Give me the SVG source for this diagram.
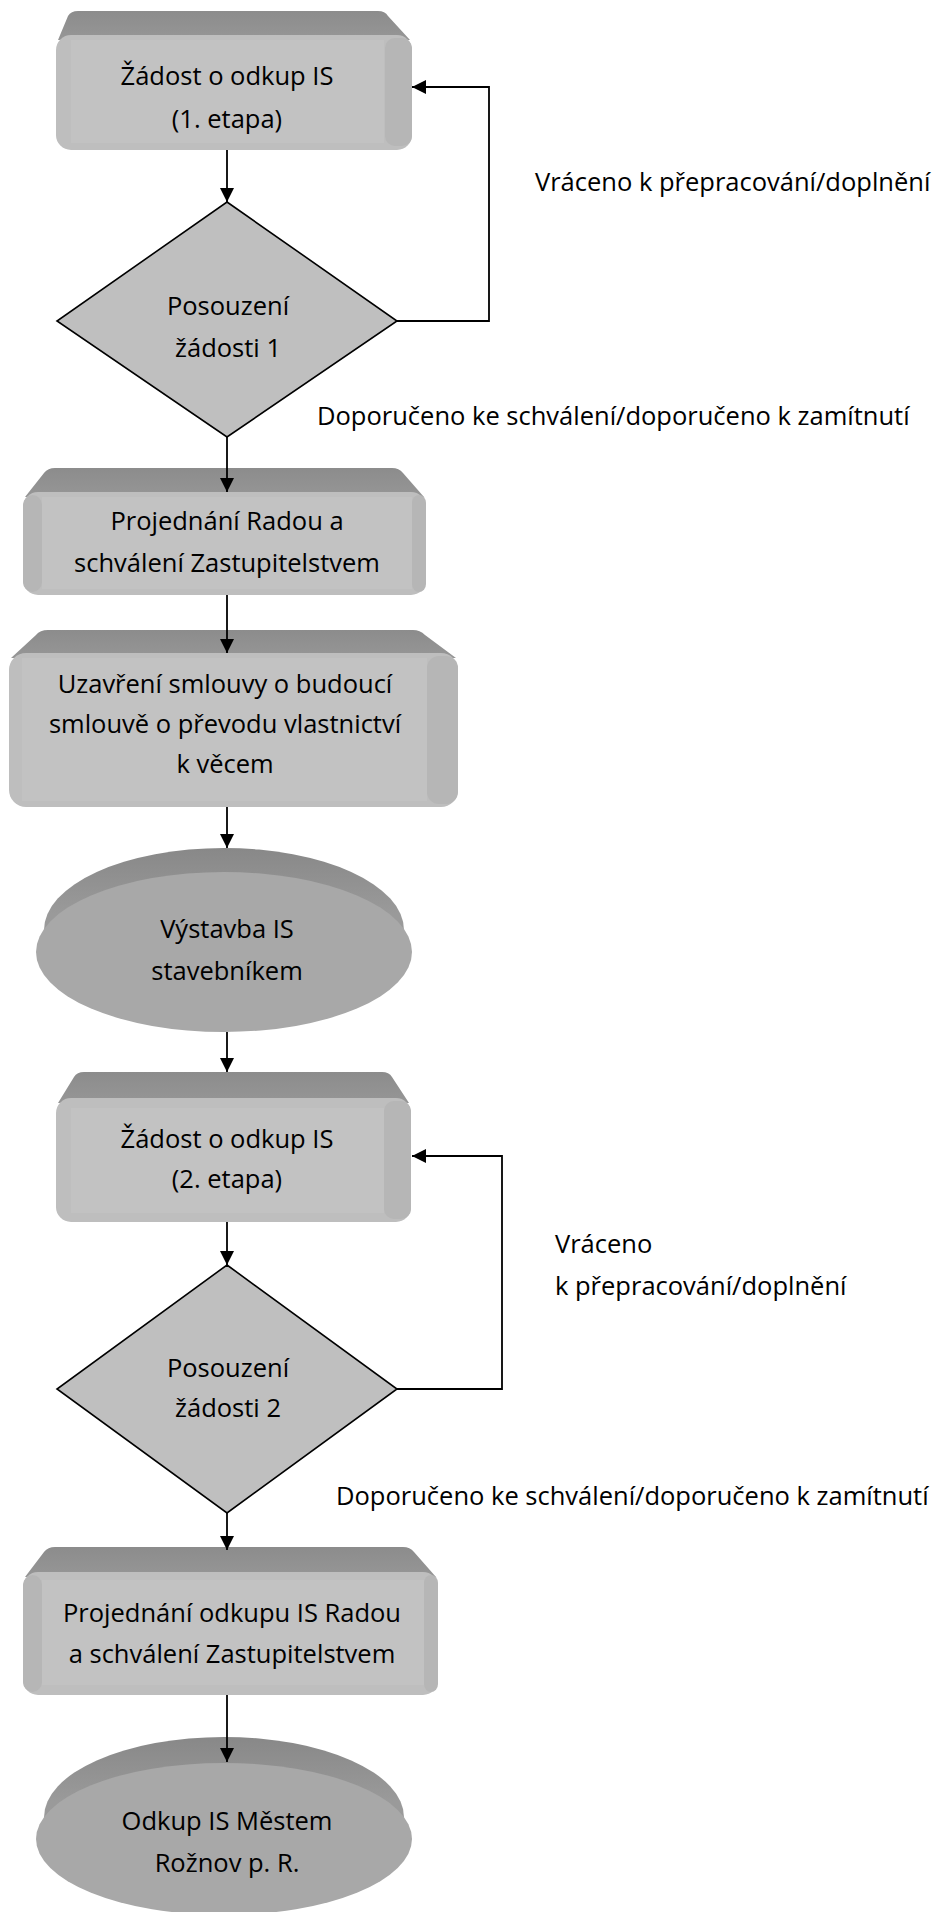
<svg xmlns="http://www.w3.org/2000/svg" width="937" height="1912" viewBox="0 0 937 1912">
<style>
text{font-family:"Open Sans","Liberation Sans",sans-serif;font-size:25.5px;fill:#000}
.c{text-anchor:middle}
.bevel{fill:url(#gb)}
.face{fill:#BEBEBE}
.inner{fill:#C2C2C2}
.side{fill:#B6B6B6}
.ebevel{fill:url(#ge)}
.eface{fill:#A8A8A8}
.dia{fill:#BFBFBF;stroke:#000;stroke-width:1.6}
.con{fill:none;stroke:#000;stroke-width:1.8}
</style>
<defs>
<linearGradient id="gb" x1="0" y1="0" x2="0" y2="1">
<stop offset="0" stop-color="#8C8C8C"/><stop offset="1" stop-color="#969696"/>
</linearGradient>
<linearGradient id="ge" x1="0" y1="0" x2="0" y2="1">
<stop offset="0" stop-color="#888888"/><stop offset="0.4" stop-color="#9A9A9A"/><stop offset="1" stop-color="#9A9A9A"/>
</linearGradient>
<marker id="ah" markerUnits="userSpaceOnUse" markerWidth="14" markerHeight="14" viewBox="0 0 14 14" refX="14" refY="7" orient="auto">
<path d="M0,0 L14,7 L0,14 Z" fill="#000"/>
</marker>
</defs>

<g id="n1">
<path class="bevel" d="M58,40 L68,16 Q71,11 78,11 L378,11 Q385,11 388,16 L410,40 Z"/>
<rect class="face" x="56" y="35" width="356" height="115" rx="15"/>
<rect class="side" x="385" y="38" width="27" height="108" rx="10"/>
<rect class="inner" x="71" y="40" width="313" height="103"/>
<text class="c" x="227" y="85">Žádost o odkup IS</text>
<text class="c" x="227" y="128">(1. etapa)</text>
</g>

<g id="n2">
<polygon class="dia" points="227,202 397,321 227,437 57,321"/>
<text class="c" x="228" y="315">Posouzení</text>
<text class="c" x="228" y="357">žádosti 1</text>
</g>

<g id="n3">
<path class="bevel" d="M25,497 L44,473 Q48,468 55,468 L392,468 Q399,468 403,473 L424,497 Z"/>
<rect class="face" x="23" y="492" width="403" height="103" rx="15"/>
<rect class="side" x="23" y="495" width="19" height="97" rx="10"/>
<rect class="side" x="412" y="495" width="14" height="97" rx="8"/>
<rect class="inner" x="42" y="497" width="370" height="92"/>
<text class="c" x="227" y="530">Projednání Radou a</text>
<text class="c" x="227" y="572">schválení Zastupitelstvem</text>
</g>

<g id="n4">
<path class="bevel" d="M11,658 L36,635 Q40,630 48,630 L413,630 Q420,630 425,635 L456,658 Z"/>
<rect class="face" x="9" y="653" width="449" height="154" rx="17"/>
<rect class="side" x="427" y="656" width="31" height="148" rx="12"/>
<rect class="inner" x="22" y="658" width="405" height="143"/>
<text class="c" x="225" y="693">Uzavření smlouvy o budoucí</text>
<text class="c" x="225" y="733">smlouvě o převodu vlastnictví</text>
<text class="c" x="225" y="773">k věcem</text>
</g>

<g id="n5">
<ellipse class="ebevel" cx="224" cy="930" rx="180" ry="82"/>
<ellipse class="eface" cx="224" cy="952" rx="188" ry="80"/>
<text class="c" x="227" y="938">Výstavba IS</text>
<text class="c" x="227" y="980">stavebníkem</text>
</g>

<g id="n6">
<path class="bevel" d="M58,1103 L74,1077 Q77,1072 84,1072 L382,1072 Q389,1072 392,1077 L409,1103 Z"/>
<rect class="face" x="56" y="1098" width="355" height="124" rx="15"/>
<rect class="side" x="384" y="1101" width="27" height="118" rx="10"/>
<rect class="inner" x="71" y="1108" width="313" height="105"/>
<text class="c" x="227" y="1148">Žádost o odkup IS</text>
<text class="c" x="227" y="1188">(2. etapa)</text>
</g>

<g id="n7">
<polygon class="dia" points="227,1265 397,1389 227,1513 57,1389"/>
<text class="c" x="228" y="1377">Posouzení</text>
<text class="c" x="228" y="1417">žádosti 2</text>
</g>

<g id="n8">
<path class="bevel" d="M25,1577 L44,1552 Q48,1547 55,1547 L403,1547 Q410,1547 414,1552 L436,1577 Z"/>
<rect class="face" x="23" y="1572" width="415" height="123" rx="15"/>
<rect class="side" x="23" y="1575" width="19" height="117" rx="10"/>
<rect class="side" x="424" y="1575" width="14" height="117" rx="8"/>
<rect class="inner" x="42" y="1580" width="382" height="105"/>
<text class="c" x="232" y="1622">Projednání odkupu IS Radou</text>
<text class="c" x="232" y="1663">a schválení Zastupitelstvem</text>
</g>

<g id="n9">
<ellipse class="ebevel" cx="224" cy="1817" rx="180" ry="80"/>
<ellipse class="eface" cx="224" cy="1839" rx="188" ry="76"/>
<text class="c" x="227" y="1830">Odkup IS Městem</text>
<text class="c" x="227" y="1872">Rožnov p. R.</text>
</g>

<g id="labels">
<text x="535" y="191">Vráceno k přepracování/doplnění</text>
<text x="317" y="425">Doporučeno ke schválení/doporučeno k zamítnutí</text>
<text x="555" y="1253">Vráceno</text>
<text x="555" y="1295">k přepracování/doplnění</text>
<text x="336" y="1505">Doporučeno ke schválení/doporučeno k zamítnutí</text>
</g>

<g id="connectors">
<path class="con" marker-end="url(#ah)" d="M227,150 L227,202"/>
<path class="con" marker-end="url(#ah)" d="M397,321 L489,321 L489,87 L412,87"/>
<path class="con" marker-end="url(#ah)" d="M227,437 L227,492"/>
<path class="con" marker-end="url(#ah)" d="M227,595 L227,653"/>
<path class="con" marker-end="url(#ah)" d="M227,807 L227,848"/>
<path class="con" marker-end="url(#ah)" d="M227,1032 L227,1072"/>
<path class="con" marker-end="url(#ah)" d="M397,1389 L502,1389 L502,1156 L412,1156"/>
<path class="con" marker-end="url(#ah)" d="M227,1222 L227,1265"/>
<path class="con" marker-end="url(#ah)" d="M227,1513 L227,1550"/>
<path class="con" marker-end="url(#ah)" d="M227,1695 L227,1762"/>
</g>
</svg>
